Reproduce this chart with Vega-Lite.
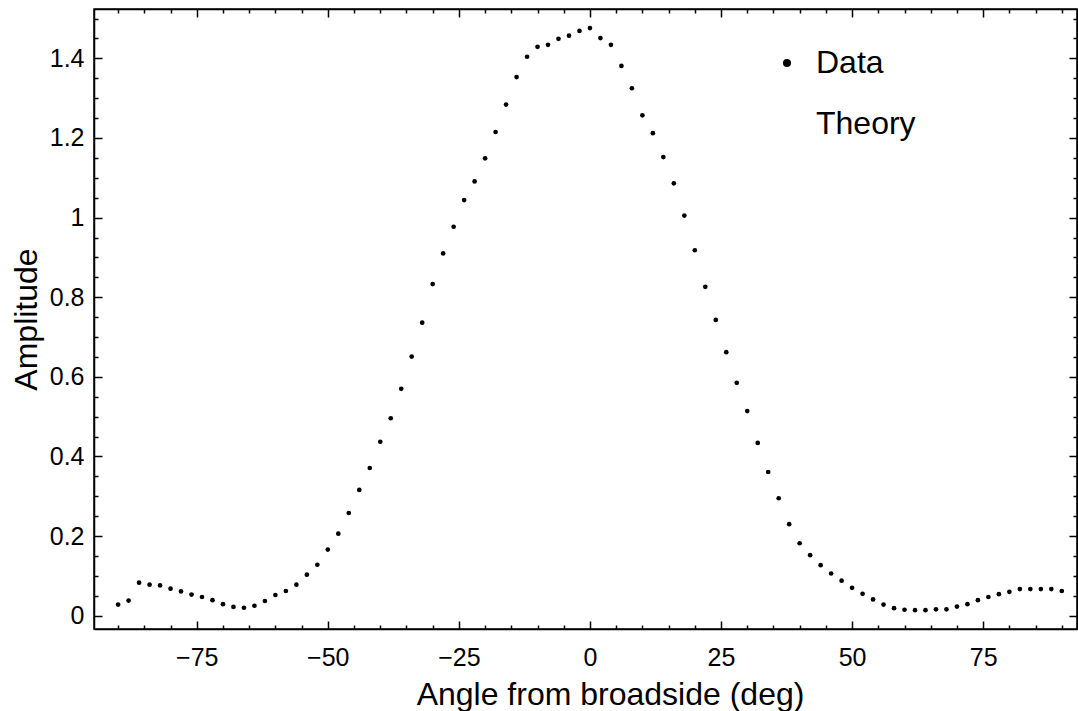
{
  "$schema": "https://vega.github.io/schema/vega-lite/v6.json",
  "width": 983,
  "height": 620,
  "autosize": {"type": "none"},
  "padding": {"left": 94, "top": 9, "right": 1, "bottom": 82},
  "background": "white",
  "config": {
    "font": "Liberation Sans",
    "view": {"stroke": "black", "strokeWidth": 1.5},
    "axis": {
      "domainColor": "black",
      "domainWidth": 1.5,
      "tickColor": "black",
      "tickWidth": 1.5,
      "labelColor": "black",
      "titleColor": "black",
      "labelFont": "Liberation Sans",
      "titleFont": "Liberation Sans",
      "labelFontSize": 25,
      "titleFontSize": 32,
      "titleFontWeight": "normal",
      "grid": false
    }
  },
  "data": {
    "values": [
      {"angle": -90, "amplitude": 0.028, "series": "Data"},
      {"angle": -88, "amplitude": 0.038, "series": "Data"},
      {"angle": -86, "amplitude": 0.083, "series": "Data"},
      {"angle": -84, "amplitude": 0.078, "series": "Data"},
      {"angle": -82, "amplitude": 0.076, "series": "Data"},
      {"angle": -80, "amplitude": 0.068, "series": "Data"},
      {"angle": -78, "amplitude": 0.061, "series": "Data"},
      {"angle": -76, "amplitude": 0.053, "series": "Data"},
      {"angle": -74, "amplitude": 0.047, "series": "Data"},
      {"angle": -72, "amplitude": 0.039, "series": "Data"},
      {"angle": -70, "amplitude": 0.029, "series": "Data"},
      {"angle": -68, "amplitude": 0.022, "series": "Data"},
      {"angle": -66, "amplitude": 0.020, "series": "Data"},
      {"angle": -64, "amplitude": 0.025, "series": "Data"},
      {"angle": -62, "amplitude": 0.037, "series": "Data"},
      {"angle": -60, "amplitude": 0.052, "series": "Data"},
      {"angle": -58, "amplitude": 0.062, "series": "Data"},
      {"angle": -56, "amplitude": 0.078, "series": "Data"},
      {"angle": -54, "amplitude": 0.103, "series": "Data"},
      {"angle": -52, "amplitude": 0.128, "series": "Data"},
      {"angle": -50, "amplitude": 0.166, "series": "Data"},
      {"angle": -48, "amplitude": 0.206, "series": "Data"},
      {"angle": -46, "amplitude": 0.258, "series": "Data"},
      {"angle": -44, "amplitude": 0.316, "series": "Data"},
      {"angle": -42, "amplitude": 0.371, "series": "Data"},
      {"angle": -40, "amplitude": 0.437, "series": "Data"},
      {"angle": -38, "amplitude": 0.496, "series": "Data"},
      {"angle": -36, "amplitude": 0.570, "series": "Data"},
      {"angle": -34, "amplitude": 0.651, "series": "Data"},
      {"angle": -32, "amplitude": 0.736, "series": "Data"},
      {"angle": -30, "amplitude": 0.833, "series": "Data"},
      {"angle": -28, "amplitude": 0.910, "series": "Data"},
      {"angle": -26, "amplitude": 0.977, "series": "Data"},
      {"angle": -24, "amplitude": 1.044, "series": "Data"},
      {"angle": -22, "amplitude": 1.091, "series": "Data"},
      {"angle": -20, "amplitude": 1.149, "series": "Data"},
      {"angle": -18, "amplitude": 1.215, "series": "Data"},
      {"angle": -16, "amplitude": 1.284, "series": "Data"},
      {"angle": -14, "amplitude": 1.353, "series": "Data"},
      {"angle": -12, "amplitude": 1.404, "series": "Data"},
      {"angle": -10, "amplitude": 1.429, "series": "Data"},
      {"angle": -8, "amplitude": 1.434, "series": "Data"},
      {"angle": -6, "amplitude": 1.449, "series": "Data"},
      {"angle": -4, "amplitude": 1.457, "series": "Data"},
      {"angle": -2, "amplitude": 1.469, "series": "Data"},
      {"angle": 0, "amplitude": 1.476, "series": "Data"},
      {"angle": 2, "amplitude": 1.451, "series": "Data"},
      {"angle": 4, "amplitude": 1.434, "series": "Data"},
      {"angle": 6, "amplitude": 1.381, "series": "Data"},
      {"angle": 8, "amplitude": 1.325, "series": "Data"},
      {"angle": 10, "amplitude": 1.257, "series": "Data"},
      {"angle": 12, "amplitude": 1.212, "series": "Data"},
      {"angle": 14, "amplitude": 1.152, "series": "Data"},
      {"angle": 16, "amplitude": 1.086, "series": "Data"},
      {"angle": 18, "amplitude": 1.005, "series": "Data"},
      {"angle": 20, "amplitude": 0.918, "series": "Data"},
      {"angle": 22, "amplitude": 0.826, "series": "Data"},
      {"angle": 24, "amplitude": 0.743, "series": "Data"},
      {"angle": 26, "amplitude": 0.662, "series": "Data"},
      {"angle": 28, "amplitude": 0.585, "series": "Data"},
      {"angle": 30, "amplitude": 0.514, "series": "Data"},
      {"angle": 32, "amplitude": 0.434, "series": "Data"},
      {"angle": 34, "amplitude": 0.361, "series": "Data"},
      {"angle": 36, "amplitude": 0.295, "series": "Data"},
      {"angle": 38, "amplitude": 0.230, "series": "Data"},
      {"angle": 40, "amplitude": 0.182, "series": "Data"},
      {"angle": 42, "amplitude": 0.152, "series": "Data"},
      {"angle": 44, "amplitude": 0.127, "series": "Data"},
      {"angle": 46, "amplitude": 0.106, "series": "Data"},
      {"angle": 48, "amplitude": 0.088, "series": "Data"},
      {"angle": 50, "amplitude": 0.070, "series": "Data"},
      {"angle": 52, "amplitude": 0.055, "series": "Data"},
      {"angle": 54, "amplitude": 0.041, "series": "Data"},
      {"angle": 56, "amplitude": 0.028, "series": "Data"},
      {"angle": 58, "amplitude": 0.019, "series": "Data"},
      {"angle": 60, "amplitude": 0.015, "series": "Data"},
      {"angle": 62, "amplitude": 0.014, "series": "Data"},
      {"angle": 64, "amplitude": 0.014, "series": "Data"},
      {"angle": 66, "amplitude": 0.016, "series": "Data"},
      {"angle": 68, "amplitude": 0.016, "series": "Data"},
      {"angle": 70, "amplitude": 0.023, "series": "Data"},
      {"angle": 72, "amplitude": 0.029, "series": "Data"},
      {"angle": 74, "amplitude": 0.039, "series": "Data"},
      {"angle": 76, "amplitude": 0.047, "series": "Data"},
      {"angle": 78, "amplitude": 0.054, "series": "Data"},
      {"angle": 80, "amplitude": 0.060, "series": "Data"},
      {"angle": 82, "amplitude": 0.067, "series": "Data"},
      {"angle": 84, "amplitude": 0.067, "series": "Data"},
      {"angle": 86, "amplitude": 0.067, "series": "Data"},
      {"angle": 88, "amplitude": 0.067, "series": "Data"},
      {"angle": 90, "amplitude": 0.062, "series": "Data"}
    ]
  },
  "resolve": {"axis": {"x": "independent", "y": "independent"}},
  "layer": [
    {
      "mark": {"type": "point", "filled": true, "size": 22, "opacity": 1, "strokeWidth": 0},
      "encoding": {
        "x": {
          "field": "angle", "type": "quantitative",
          "scale": {"domain": [-94.6, 92.9], "nice": false, "zero": false},
          "axis": {
            "orient": "bottom",
            "title": "Angle from broadside (deg)",
            "values": [-90,-85,-80,-75,-70,-65,-60,-55,-50,-45,-40,-35,-30,-25,-20,-15,-10,-5,0,5,10,15,20,25,30,35,40,45,50,55,60,65,70,75,80,85,90],
            "labelExpr": "datum.value % 25 === 0 ? datum.label : ''",
            "tickSize": {"condition": {"test": "datum.value % 25 === 0", "value": -8}, "value": -4},
            "labelPadding": 24,
            "labelFlush": false,
            "labelOverlap": false,
            "titlePadding": 5,
            "titleX": 516
          }
        },
        "y": {
          "field": "amplitude", "type": "quantitative",
          "scale": {"domain": [-0.0334, 1.524], "nice": false, "zero": false},
          "axis": {
            "orient": "left",
            "title": "Amplitude",
            "values": [0,0.05,0.1,0.15,0.2,0.25,0.3,0.35,0.4,0.45,0.5,0.55,0.6,0.65,0.7,0.75,0.8,0.85,0.9,0.95,1,1.05,1.1,1.15,1.2,1.25,1.3,1.35,1.4,1.45,1.5],
            "format": ".2~f",
            "labelExpr": "abs(datum.value*5 - round(datum.value*5)) < 1e-6 ? datum.label : ''",
            "tickSize": {"condition": {"test": "abs(datum.value*5 - round(datum.value*5)) < 1e-6", "value": -8}, "value": -4},
            "labelPadding": 18,
            "labelFlush": false,
            "labelOverlap": false,
            "titlePadding": 6
          }
        },
        "color": {
          "field": "series", "type": "nominal",
          "scale": {"domain": ["Data", "Theory"], "range": ["black", "black"]},
          "legend": {
            "orient": "none",
            "legendX": 677,
            "legendY": 38,
            "title": null,
            "padding": 0,
            "symbolType": "circle",
            "symbolSize": {"expr": "datum.value === 'Theory' ? 0 : 64"},
            "symbolStrokeWidth": 0,
            "labelFontSize": 32,
            "labelFont": "Liberation Sans",
            "labelColor": "black",
            "labelOffset": 13,
            "rowPadding": 29
          }
        }
      }
    },
    {
      "mark": {"type": "point", "opacity": 0},
      "encoding": {
        "x": {
          "field": "angle", "type": "quantitative",
          "scale": {"domain": [-94.6, 92.9], "nice": false, "zero": false},
          "axis": {
            "orient": "top",
            "title": null,
            "labels": false,
            "values": [-90,-85,-80,-75,-70,-65,-60,-55,-50,-45,-40,-35,-30,-25,-20,-15,-10,-5,0,5,10,15,20,25,30,35,40,45,50,55,60,65,70,75,80,85,90],
            "tickSize": {"condition": {"test": "datum.value % 25 === 0", "value": -8}, "value": -4}
          }
        },
        "y": {
          "field": "amplitude", "type": "quantitative",
          "scale": {"domain": [-0.0334, 1.524], "nice": false, "zero": false},
          "axis": {
            "orient": "right",
            "title": null,
            "labels": false,
            "values": [0,0.05,0.1,0.15,0.2,0.25,0.3,0.35,0.4,0.45,0.5,0.55,0.6,0.65,0.7,0.75,0.8,0.85,0.9,0.95,1,1.05,1.1,1.15,1.2,1.25,1.3,1.35,1.4,1.45,1.5],
            "tickSize": {"condition": {"test": "abs(datum.value*5 - round(datum.value*5)) < 1e-6", "value": -8}, "value": -4}
          }
        }
      }
    }
  ]
}
